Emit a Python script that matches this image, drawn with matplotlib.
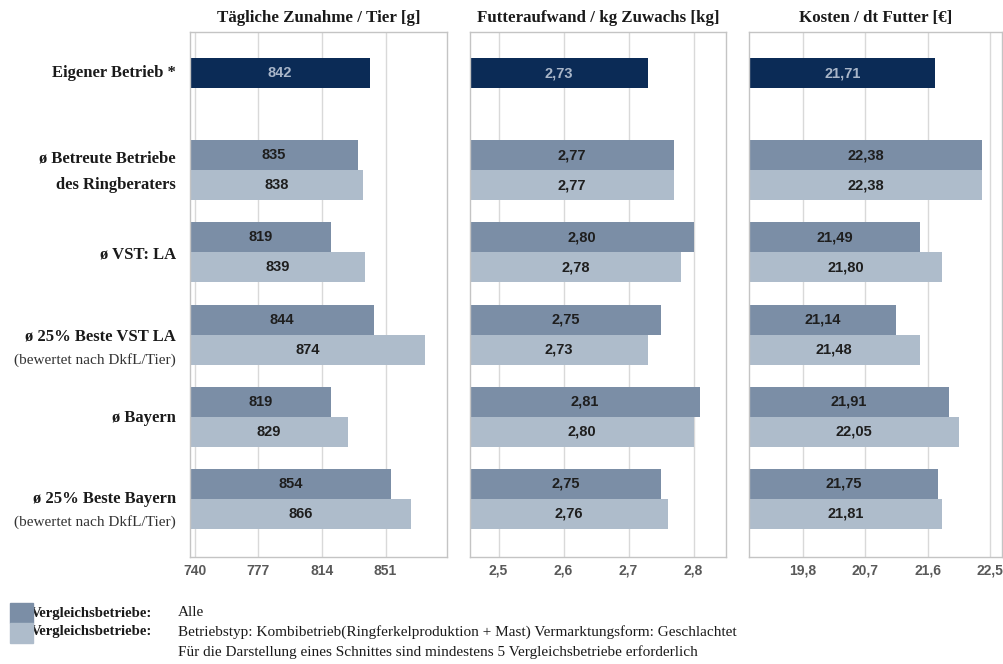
import matplotlib
matplotlib.use("Agg")
from matplotlib import pyplot as plt
from matplotlib import transforms
import numpy as np

W, H = 1004, 664

# Kennzahlen
eigener = [842, 2.73, 21.71]
alle_zunahme = [835, 819, 844, 819, 854]
kombi_zunahme = [838, 839, 874, 829, 866]
alle_futter = [2.77, 2.80, 2.75, 2.81, 2.75]
kombi_futter = [2.77, 2.78, 2.73, 2.80, 2.76]
alle_kosten = [22.38, 21.49, 21.14, 21.91, 21.75]
kombi_kosten = [22.38, 21.80, 21.48, 22.05, 21.81]

titles = ["Tägliche Zunahme / Tier [g]", "Futteraufwand / kg Zuwachs [kg]", "Kosten / dt Futter [€]"]
ticks = [[740, 777, 814, 851], [2.5, 2.6, 2.7, 2.8], [19.8, 20.7, 21.6, 22.5]]
tick_labels = [["740", "777", "814", "851"], ["2,5", "2,6", "2,7", "2,8"], ["19,8", "20,7", "21,6", "22,5"]]
limits = [(737.1, 886.8), (2.456, 2.85), (19.02, 22.67)]
fmt = [lambda v: f"{v:.0f}", lambda v: f"{v:.2f}".replace(".", ","), lambda v: f"{v:.2f}".replace(".", ",")]

NAVY = "#0b2b56"
DARK = "#7b8ea6"
LIGHT = "#aebccb"
GRID = "#d9d9d9"
FRAME = "#c4c4c4"

SERIF = "Liberation Serif"
SANS = "Liberation Sans"

fig = plt.figure(figsize=(W / 100, H / 100), dpi=100)

panels = [(190, 447), (470, 726), (749, 1002)]
top, bottom = 32, 557
unit = 82.2          # px pro Gruppe
y0 = 88              # px der ersten Gruppenmitte
bh = 30 / unit

data = [
    (eigener[0], alle_zunahme, kombi_zunahme),
    (eigener[1], alle_futter, kombi_futter),
    (eigener[2], alle_kosten, kombi_kosten),
]

axes = []
for i, ((l, r), (own, dark, light)) in enumerate(zip(panels, data)):
    ax = fig.add_axes([l / W, 1 - bottom / H, (r - l) / W, (bottom - top) / H])
    axes.append(ax)
    ax.set_xlim(*limits[i])
    ax.set_ylim((bottom - y0) / unit, (top - y0) / unit)
    ax.set_xticks(ticks[i])
    ax.set_xticklabels(tick_labels[i], fontfamily=SANS, fontweight="bold", fontsize=10, color="#595959")
    ax.tick_params(axis="x", length=0, pad=5)
    ax.set_yticks([])
    ax.grid(axis="x", color=GRID, linewidth=1)
    ax.set_axisbelow(True)
    for s in ax.spines.values():
        s.set_color(FRAME)
        s.set_linewidth(1)

    xmin = limits[i][0]
    k = np.arange(1, 6)
    # eigener Betrieb
    ax.barh(0 - bh / 2, own - xmin, left=xmin, height=bh, color=NAVY)
    ax.text((xmin + own) / 2, 0 - bh / 2, fmt[i](own), ha="center", va="center",
            fontfamily=SANS, fontweight="bold", fontsize=10.5, color="#a9b6c9")
    # Vergleichsbetriebe
    ax.barh(k - bh / 2, np.array(dark) - xmin, left=xmin, height=bh, color=DARK)
    ax.barh(k + bh / 2, np.array(light) - xmin, left=xmin, height=bh, color=LIGHT)
    for kk, dv, lv in zip(k, dark, light):
        ax.text((xmin + dv) / 2, kk - bh / 2, fmt[i](dv), ha="center", va="center",
                fontfamily=SANS, fontweight="bold", fontsize=10.5, color="#1e1e1e")
        ax.text((xmin + lv) / 2, kk + bh / 2, fmt[i](lv), ha="center", va="center",
                fontfamily=SANS, fontweight="bold", fontsize=10.5, color="#1e1e1e")

    fig.text((l + r) / 2 / W, 1 - 18 / H, titles[i], ha="center", va="center",
             fontfamily=SERIF, fontweight="bold", fontsize=12.2, color="#1a1a1a")

# Kategorien links
tr = transforms.blended_transform_factory(fig.transFigure, axes[0].transData)
lx = 176 / W
main_labels = [
    ("Eigener Betrieb *", 0 - bh / 2),
    ("ø Betreute Betriebe", 1 - 12 / unit),
    ("des Ringberaters", 1 + 15 / unit),
    ("ø VST: LA", 2 + 2 / unit),
    ("ø 25% Beste VST LA", 3 + 2 / unit),
    ("ø Bayern", 4 + 1 / unit),
    ("ø 25% Beste Bayern", 5),
]
for txt, yy in main_labels:
    fig.text(lx, yy, txt, transform=tr, ha="right", va="center",
             fontfamily=SERIF, fontweight="bold", fontsize=12, color="#1a1a1a")
for yy in [3 + 25 / unit, 5 + 23 / unit]:
    fig.text(lx, yy, "(bewertet nach DkfL/Tier)", transform=tr, ha="right", va="center",
             fontfamily=SERIF, fontsize=11, color="#333333")

# Legende unten
fig.patches.append(plt.Rectangle((10 / W, 1 - 623 / H), 23 / W, 20 / H, transform=fig.transFigure,
                                 color=DARK, zorder=5))
fig.patches.append(plt.Rectangle((10 / W, 1 - 643 / H), 23 / W, 20 / H, transform=fig.transFigure,
                                 color=LIGHT, zorder=5))
for yy in [613, 632]:
    fig.text(31 / W, 1 - yy / H, "Vergleichsbetriebe:", ha="left", va="center",
             fontfamily=SERIF, fontweight="bold", fontsize=10.6, color="#1a1a1a")
fig.text(178 / W, 1 - 613 / H, "Alle", ha="left", va="center",
         fontfamily=SERIF, fontsize=11, color="#1a1a1a")
fig.text(178 / W, 1 - 632 / H,
         "Betriebstyp: Kombibetrieb(Ringferkelproduktion + Mast) Vermarktungsform: Geschlachtet",
         ha="left", va="center", fontfamily=SERIF, fontsize=11, color="#1a1a1a")
fig.text(178 / W, 1 - 652 / H,
         "Für die Darstellung eines Schnittes sind mindestens 5 Vergleichsbetriebe erforderlich",
         ha="left", va="center", fontfamily=SERIF, fontsize=11, color="#1a1a1a")

fig.savefig("out.png", dpi=100)
